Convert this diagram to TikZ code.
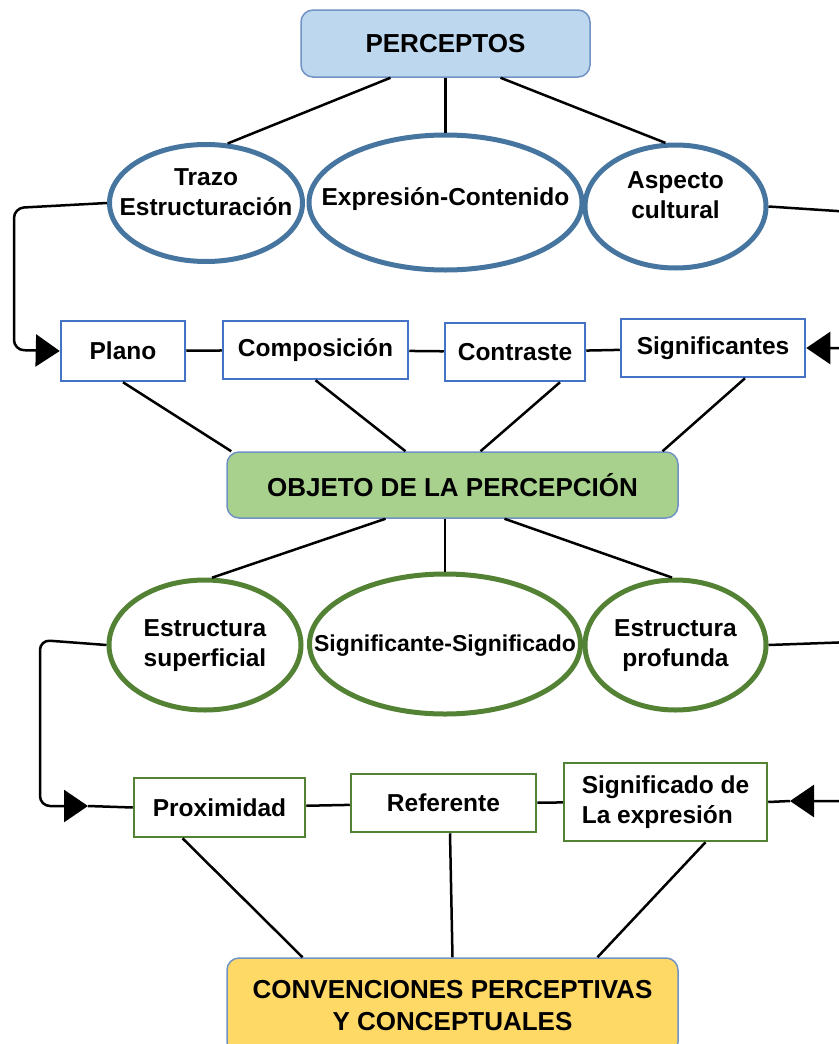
\documentclass[tikz,border=0pt]{standalone}
\usepackage{fontspec}
\setmainfont{Liberation Sans}
\usetikzlibrary{shapes.geometric,arrows.meta}
\definecolor{head-blue}{RGB}{189,215,238}
\definecolor{head-green}{RGB}{169,209,142}
\definecolor{head-yellow}{RGB}{255,217,102}
\definecolor{head-line}{RGB}{112,146,196}
\definecolor{oval-blue}{RGB}{70,117,160}
\definecolor{box-blue}{RGB}{68,114,196}
\definecolor{my-green}{RGB}{84,130,53}
% text of an oval, given no size of its own
\newcommand\ovaltext[2][0pt]{\smash{\makebox[0pt]{\raisebox{#1}{\begin{tabular}{@{}c@{}}#2\end{tabular}}}}}
\begin{document}
\begin{tikzpicture}[x=1pt, y=-1pt,
    txt/.style={font=\fontsize{24.5}{30}\selectfont\bfseries, align=center, inner sep=0pt},
    head/.style={txt, draw=head-line, line width=1.5pt, rounded corners=12pt,
      font=\fontsize{26}{32}\selectfont\bfseries},
    oval/.style={txt, ellipse, line width=5pt},
    item/.style={txt, rectangle, line width=2.5pt, fill=white},
    link/.style={line width=2.5pt},
    loop/.style={line width=2.5pt, rounded corners=10pt},
    tip/.style={-{Triangle[length=24pt, width=32pt]}}]
  \useasboundingbox (0,0) rectangle (838,1044);
  % heads
  \node[head, fill=head-blue, minimum width=289, minimum height=67] (percep) at (445.5,43.5) {PERCEPTOS};
  \node[head, fill=head-green, minimum width=451, minimum height=66] (objeto) at (452.5,485) {OBJETO DE LA PERCEPCI\'ON};
  \node[head, fill=head-yellow, minimum width=451, minimum height=96] (conv) at (452.5,1006) {CONVENCIONES PERCEPTIVAS\\Y CONCEPTUALES};
  % blue ovals and boxes
  \node[oval, draw=oval-blue, minimum width=193, minimum height=117] (trazo) at (206,203) {\ovaltext[2pt]{Trazo\\Estructuraci\'on}};
  \node[oval, draw=oval-blue, minimum width=273, minimum height=135] (expr) at (445.5,202.5) {\ovaltext[-3pt]{Expresi\'on-Contenido}};
  \node[oval, draw=oval-blue, minimum width=181, minimum height=123] (aspecto) at (675.5,206.5) {\ovaltext[3pt]{Aspecto\\cultural}};
  \node[item, draw=box-blue, minimum width=124, minimum height=60] (plano) at (123,351) {Plano};
  \node[item, draw=box-blue, minimum width=185, minimum height=58] (compo) at (315.5,350) {Composici\'on};
  \node[item, draw=box-blue, minimum width=140, minimum height=58] (contra) at (515,352) {Contraste};
  \node[item, draw=box-blue, minimum width=184, minimum height=58] (signif) at (713,348) {Significantes};
  % green ovals and boxes
  \node[oval, draw=my-green, minimum width=192, minimum height=130] (esup) at (205,645) {\ovaltext[-7pt]{Estructura\\superficial}};
  \node[oval, draw=my-green, minimum width=271, minimum height=140, font=\fontsize{23}{28}\selectfont\bfseries] (sig) at (445,644) {\ovaltext[-8pt]{Significante-Significado}};
  \node[oval, draw=my-green, minimum width=181, minimum height=130] (eprof) at (675.5,645) {\ovaltext[-7pt]{Estructura\\profunda}};
  \node[item, draw=my-green, minimum width=171, minimum height=59] (prox) at (219.5,807.5) {Proximidad};
  \node[item, draw=my-green, minimum width=185, minimum height=58] (refer) at (443.5,803) {Referente};
  \node[item, draw=my-green, minimum width=203, minimum height=78, align=left] (sgdo) at (665.5,802) {Significado de\\La expresi\'on};
  \coordinate (tipL) at (88,806);
  \coordinate (tipR) at (790,801);
  % top half
  \draw[link] ([xshift=-55]percep.south) -- (trazo.70);
  \draw[link] (percep.south) -- (expr.north);
  \draw[link] ([xshift=55]percep.south) -- (aspecto.99);
  \draw[link] (plano) -- (compo);
  \draw[link] (compo) -- (contra);
  \draw[link] (contra) -- (signif);
  \draw[link] (plano.south) -- ([xshift=5]objeto.north west);
  \draw[link] (compo.south) -- ([xshift=-47]objeto.north);
  \draw[link] ([xshift=45]contra.south) -- ([xshift=28]objeto.north);
  \draw[link] ([xshift=32]signif.south) -- ([xshift=210]objeto.north);
  \draw[loop, tip] (trazo.west) -- (14,208) -- (14,350) -- (plano.west);
  \draw[loop, tip] (aspecto.east) -- (852,212) -- (852,348) -- (signif.east);
  % bottom half
  \draw[link] ([xshift=-67]objeto.south) -- (esup.84);
  \draw[link] ([xshift=-7.5]objeto.south) -- (sig.north);
  \draw[link] ([xshift=52]objeto.south) -- (eprof.93);
  \draw[link] (prox) -- (refer);
  \draw[link] (refer) -- (sgdo);
  \draw[link] ([xshift=-37]prox.south) -- ([xshift=-150]conv.north);
  \draw[link] ([xshift=6.5]refer.south) -- (conv.north);
  \draw[link] ([xshift=40]sgdo.south) -- ([xshift=145]conv.north);
  \draw[loop, tip] (esup.west) -- (40,640) -- (40,806) -- (tipL);
  \draw[link] (tipL) -- (prox.west);
  \draw[loop, tip] (eprof.east) -- (852,642) -- (852,801) -- (tipR);
  \draw[link] (tipR) -- (sgdo.east);
\end{tikzpicture}
\end{document}
